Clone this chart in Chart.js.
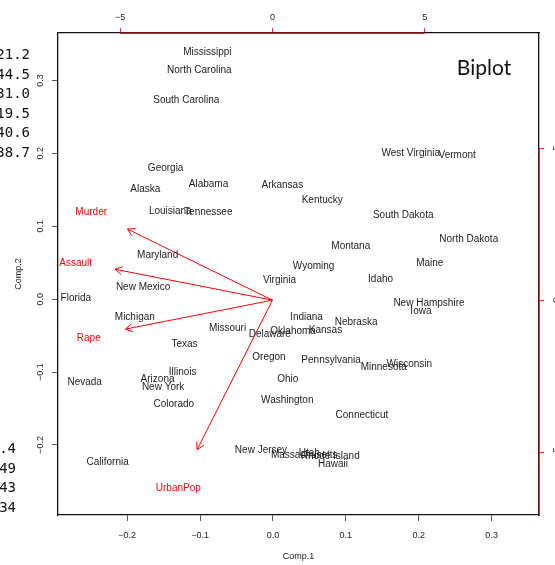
<!DOCTYPE html>
<html>
<head>
<meta charset="utf-8">
<title>Biplot</title>
<script src="https://cdn.jsdelivr.net/npm/chart.js@4.4.1/dist/chart.umd.min.js"></script>
<style>
  html, body { margin: 0; padding: 0; background: #fff; overflow: hidden; }
  #wrap { position: relative; width: 555px; height: 565px; }
  #c { position: absolute; left: 0; top: 0; }
  .cons { position: absolute; font-family: "DejaVu Sans Mono", monospace; font-size: 14px;
          line-height: 19.6px; color: #111; text-align: right; white-space: pre; }
</style>
</head>
<body>
<div id="wrap">
  <canvas id="c" width="555" height="565"></canvas>
  <div class="cons" id="consTop" style="left:-30px; top:45px; width:60px;"></div>
  <div class="cons" id="consBottom" style="left:-44px; top:439px; width:60px;"></div>
</div>
<script>
// Principal component scores of the states (Comp.1, Comp.2)
const states = ['Alabama','Alaska','Arizona','Arkansas','California','Colorado','Connecticut','Delaware',
  'Florida','Georgia','Hawaii','Idaho','Illinois','Indiana','Iowa','Kansas','Kentucky','Louisiana',
  'Maine','Maryland','Massachusetts','Michigan','Minnesota','Mississippi','Missouri','Montana',
  'Nebraska','Nevada','New Hampshire','New Jersey','New Mexico','New York','North Carolina',
  'North Dakota','Ohio','Oklahoma','Oregon','Pennsylvania','Rhode Island','South Carolina',
  'South Dakota','Tennessee','Texas','Utah','Vermont','Virginia','Washington','West Virginia',
  'Wisconsin','Wyoming'];
const comp1 = [-0.0885,-0.1752,-0.1584,0.0128,-0.2269,-0.1361,0.1221,-0.0044,
  -0.2705,-0.1473,0.0824,0.1476,-0.1240,0.0460,0.2030,0.0720,0.0676,-0.1409,
  0.2151,-0.1583,0.0429,-0.1896,0.1520,-0.0901,-0.0624,0.1067,
  0.1140,-0.2584,0.2140,-0.0165,-0.1782,-0.1508,-0.1011,
  0.2686,0.0203,0.0276,-0.0055,0.0797,0.0786,-0.1189,
  0.1787,-0.0888,-0.1214,0.0498,0.2528,0.0089,0.0196,0.1890,
  0.1870,0.0557];
const comp2 = [0.1601,0.1524,-0.1074,0.1579,-0.2213,-0.1417,-0.1568,-0.0465,
  0.0037,0.1820,-0.2248,0.0289,-0.0978,-0.0224,-0.0150,-0.0402,0.1373,0.1226,
  0.0517,0.0619,-0.2121,-0.0224,-0.0914,0.3412,-0.0383,0.0746,
  -0.0292,-0.1115,-0.0032,-0.2056,0.0188,-0.1184,0.3156,
  0.0838,-0.1074,-0.0424,-0.0772,-0.0813,-0.2134,0.2745,
  0.1167,0.1213,-0.0594,-0.2089,0.1990,0.0280,-0.1370,0.2026,
  -0.0877,0.0472];

// Variable loadings on the top / right scale
const variables = ['Murder','Assault','UrbanPop','Rape'];
const loadX = [-5.95,-6.46,-3.09,-6.03];
const loadY = [2.92,1.27,-6.14,-1.19];

// Axis ticks
const compTicks = [-0.2,-0.1,0,0.1,0.2,0.3];
const compTickLabels = ['\u22120.2','\u22120.1','0.0','0.1','0.2','0.3'];
const loadTicks = [-5,0,5];
const loadTickLabels = ['\u22125','0','5'];

// Console text beside the plot
const consoleTop = ['21.2','44.5','31.0','19.5','40.6','38.7'];
const consoleBottom = ['.4','49','43','34'];

document.getElementById('consTop').textContent = consoleTop.join('\n');
document.getElementById('consBottom').textContent = consoleBottom.join('\n');

const ARROW_FRAC = 0.8;         // arrows stop at 80% of the label position
const TEXT_DY = 1.4;            // optical centring of labels on their point
const SANS = '"Liberation Sans", Arial, Helvetica, sans-serif';
const RED = '#ff0000';
const AXIS_RED = '#8a1515';

const biplotPlugin = {
  id: 'biplot',
  afterDatasetsDraw(chart) {
    const { ctx, scales: { x, y, x2, y2 } } = chart;
    ctx.save();

    // state names at their scores
    ctx.font = '10px ' + SANS;
    ctx.fillStyle = '#1c1c1c';
    ctx.textAlign = 'center';
    ctx.textBaseline = 'middle';
    states.forEach((s, i) => {
      ctx.fillText(s, x.getPixelForValue(comp1[i]), y.getPixelForValue(comp2[i]) + TEXT_DY);
    });

    // arrow heads and variable names
    const ox = x2.getPixelForValue(0), oy = y2.getPixelForValue(0);
    ctx.strokeStyle = RED;
    ctx.fillStyle = RED;
    ctx.lineWidth = 1;
    variables.forEach((v, i) => {
      const tx = x2.getPixelForValue(ARROW_FRAC * loadX[i]);
      const ty = y2.getPixelForValue(ARROW_FRAC * loadY[i]);
      const ang = Math.atan2(ty - oy, tx - ox);
      const L = 8, a = Math.PI / 6;
      ctx.beginPath();
      ctx.moveTo(tx - L * Math.cos(ang - a), ty - L * Math.sin(ang - a));
      ctx.lineTo(tx, ty);
      ctx.lineTo(tx - L * Math.cos(ang + a), ty - L * Math.sin(ang + a));
      ctx.stroke();
      ctx.fillText(v, x2.getPixelForValue(loadX[i]), y2.getPixelForValue(loadY[i]) + TEXT_DY);
    });
    ctx.restore();
  },
  afterDraw(chart) {
    const { ctx, chartArea: ca, scales: { y, x2, y2 } } = chart;
    ctx.save();

    // red axis lines between the outer loading ticks
    ctx.strokeStyle = AXIS_RED;
    ctx.lineWidth = 1.3;
    ctx.beginPath();
    ctx.moveTo(x2.getPixelForValue(loadTicks[0]), ca.top);
    ctx.lineTo(x2.getPixelForValue(loadTicks[loadTicks.length - 1]), ca.top);
    ctx.moveTo(ca.right, y2.getPixelForValue(loadTicks[loadTicks.length - 1]));
    ctx.lineTo(ca.right, ca.bottom);
    ctx.stroke();

    // rotated tick labels on the vertical axes
    ctx.font = '9px ' + SANS;
    ctx.fillStyle = '#222';
    ctx.textAlign = 'center';
    ctx.textBaseline = 'middle';
    compTicks.forEach((v, i) => {
      ctx.save();
      ctx.translate(ca.left - 17.5, y.getPixelForValue(v));
      ctx.rotate(-Math.PI / 2);
      ctx.fillText(compTickLabels[i], 0, 0);
      ctx.restore();
    });
    loadTicks.forEach((v, i) => {
      ctx.save();
      ctx.translate(ca.right + 18, y2.getPixelForValue(v));
      ctx.rotate(-Math.PI / 2);
      ctx.fillText(loadTickLabels[i], 0, 0);
      ctx.restore();
    });

    // plot title inside the frame
    ctx.font = '21px Lato, "Open Sans", sans-serif';
    ctx.fillStyle = '#111';
    ctx.fillText('Biplot', ca.right - 55, ca.top + 35);
    ctx.restore();
  }
};

const fixedTicks = (vals) => (s) => { s.ticks = vals.map(v => ({ value: v })); };
const tickFont = { family: SANS, size: 9 };

new Chart(document.getElementById('c'), {
  type: 'scatter',
  data: {
    datasets: [
      {
        data: states.map((s, i) => ({ x: comp1[i], y: comp2[i] })),
        pointRadius: 0, xAxisID: 'x', yAxisID: 'y'
      },
      ...variables.map((v, i) => ({
        data: [{ x: 0, y: 0 }, { x: ARROW_FRAC * loadX[i], y: ARROW_FRAC * loadY[i] }],
        showLine: true, borderColor: RED, borderWidth: 1, pointRadius: 0,
        xAxisID: 'x2', yAxisID: 'y2'
      }))
    ]
  },
  options: {
    responsive: false,
    animation: false,
    events: [],
    layout: { padding: 0 },
    plugins: { legend: { display: false }, tooltip: { enabled: false } },
    scales: {
      x: {
        type: 'linear', position: 'bottom', min: -0.295, max: 0.365,
        afterBuildTicks: fixedTicks(compTicks),
        afterFit: (s) => { s.height = 50; },
        grid: { drawOnChartArea: false, drawTicks: true, tickLength: 6, tickColor: '#555', tickWidth: 1 },
        border: { color: '#111', width: 1.3 },
        ticks: { font: tickFont, color: '#222', padding: 9.6, maxRotation: 0, autoSkip: false,
                 callback: (v, i) => compTickLabels[i] },
        title: { display: true, text: 'Comp.1', font: tickFont, color: '#222', padding: { top: 0, bottom: 2.6 } }
      },
      y: {
        type: 'linear', position: 'left', min: -0.296, max: 0.365,
        afterBuildTicks: fixedTicks(compTicks),
        afterFit: (s) => { s.width = 58; },
        grid: { drawOnChartArea: false, drawTicks: true, tickLength: 6, tickColor: '#555', tickWidth: 1 },
        border: { color: '#111', width: 1.3 },
        ticks: { display: false },
        title: { display: true, text: 'Comp.2', font: tickFont, color: '#222', padding: { top: 13.4, bottom: 0 } }
      },
      x2: {
        type: 'linear', axis: 'x', position: 'top', min: -7.04, max: 8.75,
        afterBuildTicks: fixedTicks(loadTicks),
        afterFit: (s) => { s.height = 33; },
        grid: { drawOnChartArea: false, drawTicks: true, tickLength: 5, tickColor: '#ff3030', tickWidth: 1 },
        border: { color: '#111', width: 1.3 },
        ticks: { font: tickFont, color: '#222', padding: 5.4, maxRotation: 0, autoSkip: false,
                 callback: (v, i) => loadTickLabels[i] }
      },
      y2: {
        type: 'linear', axis: 'y', position: 'right', min: -7.06, max: 8.78,
        afterBuildTicks: fixedTicks(loadTicks),
        afterFit: (s) => { s.width = 16; },
        grid: { drawOnChartArea: false, drawTicks: true, tickLength: 5, tickColor: '#ff3030', tickWidth: 1 },
        border: { color: '#111', width: 1.3 },
        ticks: { display: false }
      }
    }
  },
  plugins: [biplotPlugin]
});
</script>
</body>
</html>
